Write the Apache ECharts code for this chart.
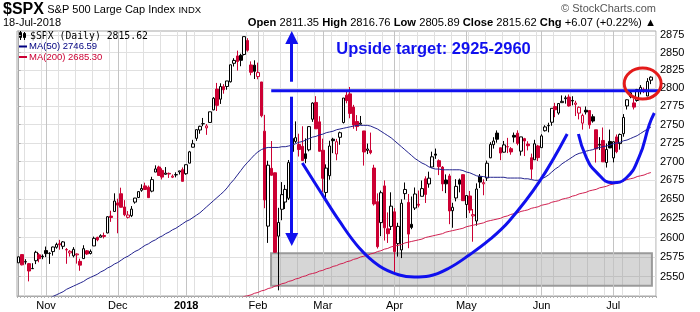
<!DOCTYPE html>
<html><head><meta charset="utf-8">
<script src="https://cdn.jsdelivr.net/npm/echarts@6/dist/echarts.min.js"></script>
<style>html,body{margin:0;padding:0;background:#fff}#c{width:700px;height:312px}</style>
</head><body><div id="c"></div>
<script>
// ---------- DATA ----------
const dates = [
'2017-10-20','2017-10-23','2017-10-24','2017-10-25','2017-10-26','2017-10-27','2017-10-30','2017-10-31',
'2017-11-01','2017-11-02','2017-11-03','2017-11-06','2017-11-07','2017-11-08','2017-11-09','2017-11-10','2017-11-13','2017-11-14','2017-11-15','2017-11-16','2017-11-17','2017-11-20','2017-11-21','2017-11-22','2017-11-24','2017-11-27','2017-11-28','2017-11-29','2017-11-30',
'2017-12-01','2017-12-04','2017-12-05','2017-12-06','2017-12-07','2017-12-08','2017-12-11','2017-12-12','2017-12-13','2017-12-14','2017-12-15','2017-12-18','2017-12-19','2017-12-20','2017-12-21','2017-12-22','2017-12-26','2017-12-27','2017-12-28','2017-12-29',
'2018-01-02','2018-01-03','2018-01-04','2018-01-05','2018-01-08','2018-01-09','2018-01-10','2018-01-11','2018-01-12','2018-01-16','2018-01-17','2018-01-18','2018-01-19','2018-01-22','2018-01-23','2018-01-24','2018-01-25','2018-01-26','2018-01-29','2018-01-30','2018-01-31',
'2018-02-01','2018-02-02','2018-02-05','2018-02-06','2018-02-07','2018-02-08','2018-02-09','2018-02-12','2018-02-13','2018-02-14','2018-02-15','2018-02-16','2018-02-20','2018-02-21','2018-02-22','2018-02-23','2018-02-26','2018-02-27','2018-02-28',
'2018-03-01','2018-03-02','2018-03-05','2018-03-06','2018-03-07','2018-03-08','2018-03-09','2018-03-12','2018-03-13','2018-03-14','2018-03-15','2018-03-16','2018-03-19','2018-03-20','2018-03-21','2018-03-22','2018-03-23','2018-03-26','2018-03-27','2018-03-28','2018-03-29',
'2018-04-02','2018-04-03','2018-04-04','2018-04-05','2018-04-06','2018-04-09','2018-04-10','2018-04-11','2018-04-12','2018-04-13','2018-04-16','2018-04-17','2018-04-18','2018-04-19','2018-04-20','2018-04-23','2018-04-24','2018-04-25','2018-04-26','2018-04-27','2018-04-30',
'2018-05-01','2018-05-02','2018-05-03','2018-05-04','2018-05-07','2018-05-08','2018-05-09','2018-05-10','2018-05-11','2018-05-14','2018-05-15','2018-05-16','2018-05-17','2018-05-18','2018-05-21','2018-05-22','2018-05-23','2018-05-24','2018-05-25','2018-05-29','2018-05-30','2018-05-31',
'2018-06-01','2018-06-04','2018-06-05','2018-06-06','2018-06-07','2018-06-08','2018-06-11','2018-06-12','2018-06-13','2018-06-14','2018-06-15','2018-06-18','2018-06-19','2018-06-20','2018-06-21','2018-06-22','2018-06-25','2018-06-26','2018-06-27','2018-06-28','2018-06-29',
'2018-07-02','2018-07-03','2018-07-05','2018-07-06','2018-07-09','2018-07-10','2018-07-11','2018-07-12','2018-07-13','2018-07-16','2018-07-17','2018-07-18'];

const opens = [
2567.56,2578.08,2568.66,2566.52,2560.08,2570.26,2577.75,2575.99,
2583.21,2579.46,2581.93,2587.47,2592.11,2588.71,2584.00,2580.18,2576.53,2577.75,2569.45,2572.95,2582.94,2579.49,2589.17,2600.31,2600.42,2602.66,2605.94,2627.82,2633.93,
2645.10,2657.19,2639.78,2626.24,2628.38,2646.21,2652.19,2661.73,2667.59,2665.87,2660.63,2685.92,2692.71,2688.18,2683.02,2684.22,2679.09,2682.10,2686.10,2689.15,
2683.73,2697.85,2719.31,2731.33,2742.67,2751.15,2745.55,2752.97,2770.18,2798.96,2784.99,2802.40,2802.60,2809.16,2835.05,2845.42,2846.24,2847.48,2867.23,2832.74,2832.41,
2816.45,2808.92,2741.06,2614.78,2690.95,2685.01,2601.78,2636.75,2646.27,2651.21,2713.46,2727.14,2722.99,2720.53,2710.42,2715.80,2757.37,2780.45,2753.78,
2715.22,2658.89,2681.06,2730.18,2710.18,2732.75,2752.91,2790.54,2792.31,2774.06,2754.27,2750.57,2741.38,2715.05,2714.99,2691.36,2646.71,2619.35,2667.57,2611.30,2614.41,
2633.45,2592.17,2584.04,2657.36,2645.82,2617.18,2638.41,2643.31,2653.83,2676.90,2670.10,2692.74,2710.11,2701.16,2692.56,2675.40,2680.80,2634.92,2651.65,2675.47,2682.51,
2642.96,2654.24,2628.08,2621.45,2680.34,2670.26,2678.12,2705.02,2722.70,2738.47,2718.59,2712.62,2719.71,2717.35,2735.39,2738.34,2713.98,2730.94,2723.60,2705.11,2702.43,2720.98,
2718.70,2741.67,2748.46,2753.25,2774.84,2765.84,2780.18,2785.60,2787.94,2783.21,2777.78,2765.79,2752.01,2769.73,2769.28,2760.79,2742.94,2722.12,2728.45,2698.69,2727.13,
2704.95,2733.27,2724.19,2737.68,2775.62,2788.56,2779.82,2783.14,2796.93,2797.36,2789.34,2811.35];

const highs = [
2575.44,2578.29,2572.18,2567.40,2567.07,2582.98,2580.03,2578.29,
2588.40,2581.11,2588.42,2593.38,2597.02,2595.47,2586.50,2583.81,2587.66,2579.66,2572.84,2590.09,2583.96,2584.64,2601.19,2600.94,2604.21,2606.41,2627.69,2634.89,2657.74,
2650.62,2665.19,2648.72,2634.41,2640.99,2651.65,2660.33,2669.72,2671.88,2668.09,2679.63,2694.97,2694.44,2691.01,2692.64,2685.35,2682.74,2685.64,2687.66,2692.12,
2695.89,2714.37,2729.29,2743.45,2748.51,2759.14,2750.80,2767.56,2787.85,2807.54,2807.04,2805.83,2810.33,2833.03,2842.24,2852.97,2848.56,2872.87,2870.62,2837.75,2839.26,
2835.96,2808.92,2763.39,2701.04,2727.67,2685.27,2638.67,2672.61,2668.84,2702.10,2731.51,2754.42,2737.60,2747.75,2731.26,2747.76,2780.64,2789.15,2761.52,
2730.89,2696.25,2728.09,2732.08,2730.60,2740.45,2786.57,2796.98,2801.90,2777.11,2763.03,2761.85,2741.38,2724.22,2739.14,2695.68,2657.67,2661.36,2674.78,2632.65,2659.07,
2638.30,2619.14,2649.86,2672.08,2656.88,2653.55,2665.45,2661.43,2674.72,2680.26,2686.49,2713.34,2717.49,2702.84,2693.94,2682.86,2683.55,2645.30,2676.48,2677.35,2682.87,
2655.27,2660.87,2637.14,2670.93,2683.35,2676.34,2701.27,2726.11,2732.86,2742.10,2718.59,2727.76,2731.96,2719.50,2739.19,2742.24,2733.33,2731.97,2727.36,2710.67,2729.34,2722.50,
2736.93,2749.16,2752.61,2772.39,2779.90,2779.39,2790.21,2789.80,2791.47,2789.06,2782.81,2774.99,2765.05,2774.86,2769.28,2764.17,2742.94,2732.91,2746.09,2724.34,2743.26,
2727.26,2736.58,2737.83,2764.41,2784.65,2795.58,2785.91,2799.22,2804.53,2801.19,2814.19,2816.76];

const lows = [
2567.56,2564.33,2565.58,2544.00,2559.80,2565.94,2568.25,2572.15,
2574.92,2566.17,2576.77,2585.66,2584.35,2585.02,2566.33,2575.57,2574.48,2566.56,2557.45,2572.95,2577.62,2578.24,2589.17,2595.23,2600.42,2598.87,2605.44,2620.32,2633.93,
2605.52,2639.03,2627.73,2624.75,2626.53,2644.10,2651.47,2659.78,2662.85,2652.01,2659.14,2685.92,2680.74,2676.11,2682.40,2678.13,2677.96,2678.91,2682.69,2673.61,
2682.36,2697.77,2719.07,2727.92,2737.60,2747.86,2736.06,2752.78,2769.64,2768.64,2778.38,2792.56,2798.08,2808.12,2830.59,2824.81,2830.94,2846.18,2851.48,2818.27,2813.04,
2812.70,2759.97,2638.17,2593.07,2681.33,2580.56,2532.69,2622.45,2637.08,2648.87,2689.82,2725.11,2706.76,2701.29,2697.77,2713.74,2753.78,2744.22,2713.54,
2659.65,2647.32,2675.75,2711.26,2701.74,2722.65,2751.54,2779.26,2758.68,2744.38,2741.47,2749.97,2694.59,2710.05,2709.79,2641.59,2585.89,2601.81,2596.12,2593.06,2609.72,
2553.80,2575.49,2573.61,2649.58,2586.27,2610.79,2635.78,2639.25,2653.83,2645.05,2665.16,2692.05,2703.63,2681.90,2660.61,2657.99,2617.32,2612.67,2647.16,2659.01,2648.04,
2625.41,2631.70,2594.62,2615.32,2664.70,2655.20,2674.14,2704.54,2717.45,2725.47,2701.91,2712.17,2711.36,2709.18,2725.70,2721.88,2707.98,2707.38,2714.99,2676.81,2702.43,2700.68,
2718.70,2740.54,2739.51,2748.46,2760.16,2763.59,2780.17,2778.78,2774.65,2776.52,2761.73,2757.12,2743.19,2763.91,2744.39,2752.68,2698.67,2715.60,2699.38,2691.99,2718.03,
2698.95,2711.16,2716.02,2733.52,2770.73,2786.24,2770.77,2781.53,2791.69,2793.39,2789.24,2805.89];

const closes = [
2575.21,2564.98,2569.13,2557.15,2560.40,2581.07,2572.83,2575.26,
2579.36,2579.85,2587.84,2591.13,2590.64,2594.38,2584.62,2582.30,2584.84,2578.87,2564.62,2585.64,2578.85,2582.14,2599.03,2597.08,2602.42,2601.42,2627.04,2626.07,2647.58,
2642.22,2639.44,2629.57,2629.27,2636.98,2651.50,2659.99,2664.11,2662.85,2652.01,2675.81,2690.16,2681.47,2679.25,2684.57,2683.34,2680.50,2682.62,2687.54,2673.61,
2695.81,2713.06,2723.99,2743.15,2747.71,2751.29,2748.23,2767.56,2786.24,2776.42,2802.56,2798.03,2810.30,2832.97,2839.13,2837.54,2839.25,2872.87,2853.53,2822.43,2823.81,
2821.98,2762.13,2648.94,2695.14,2681.66,2581.00,2619.55,2656.00,2662.94,2698.63,2731.20,2732.22,2716.26,2701.33,2703.96,2747.30,2779.60,2744.28,2713.83,
2677.67,2691.25,2720.94,2728.12,2726.80,2738.97,2786.57,2783.02,2765.31,2749.48,2747.33,2752.01,2712.92,2716.94,2711.93,2643.69,2588.26,2658.55,2612.62,2605.00,2640.87,
2581.88,2614.45,2644.69,2662.84,2604.47,2613.16,2656.87,2642.19,2663.99,2656.30,2677.84,2706.39,2708.64,2693.13,2670.14,2670.29,2634.56,2639.40,2666.94,2669.91,2648.05,
2654.80,2635.67,2629.73,2663.42,2672.63,2671.92,2697.79,2723.07,2727.72,2730.13,2711.45,2722.46,2720.13,2712.97,2733.01,2724.44,2733.29,2727.76,2721.33,2689.86,2724.01,2705.27,
2734.62,2746.87,2748.80,2772.35,2770.37,2779.03,2782.00,2786.85,2775.63,2782.49,2779.66,2773.75,2762.59,2767.32,2749.76,2754.88,2717.07,2723.06,2699.63,2716.31,2718.37,
2726.71,2713.22,2736.61,2759.82,2784.17,2793.84,2774.02,2798.29,2801.31,2798.43,2809.55,2815.62];

const prevClose = 2562.10;

const ma50 = [
2506,2508,2510,2512,2514,2515,2517,2519,2521,2523,2525,2527,
2529,2531,2534,2536,2538,2540,2542,2544,2547,2549,2551,
2553,2556,2558,2561,2563,2566,2568,
2571,2574,2576,2579,2582,2584,2587,
2590,2592,2595,2597,2600,2602,2605,2607,2610,
2612,2615,2618,2621,2623,2626,2629,2632,
2636,2640,2644,2648,2652,2656,2660,
2665,2671,2676,2682,2688,2694,
2699,2704,2709,2713,2716,2718,
2719,2719,2719,2719,2720,2720,2721,
2722,2724,2726,2727,2729,2731,2733,2734,
2736,2737,2739,2740,2741,2743,2744,2745,2746,2747,2748,2749,2749,
2749,2749,2748,2746,2744,2741,2738,2735,2732,2728,
2724,2720,2716,2712,2708,2704,2701,2698,2696,2693,2691,
2690,2690,2689,2689,2689,2689,2689,2689,2688,2686,
2685,2683,2681,2680,2680,2679,2679,2679,2679,2679,2679,2678,2678,2678,2678,2678,2677,2677,2676,2675,2675,
2677,2679,2682,2686,2690,2693,2697,2700,2703,2706,2709,2711,
2712,2714,2715,2716,2718,2719,2720,2721,2722,2724,2725,2726,2728,2729,2731,2733,2735,2738,2741,2744,2746.59];

const ma200 = [
2446,2447,2448,2450,2451,2452,2453,2454,2456,2457,2458,2459,2460,2461,2463,2464,2465,2466,2467,2469,
2470,2471,2472,2473,2475,2476,2477,2478,2479,2480,2482,2483,2484,2485,2486,2488,2489,2490,2491,2492,
2494,2495,2496,2497,2498,2500,2501,2502,2503,2504,2505,2507,2508,2509,2510,2511,2513,2514,2515,2516,
2517,2519,2520,2521,2522,2523,2525,2526,
2527,2529,2530,2532,2533,2535,2536,2538,2539,
2541,2542,2544,2545,2547,2548,2550,2551,2553,2554,2555,2557,2558,2560,2561,2563,2564,2566,2567,2569,
2570,2572,2573,2575,2576,2577,2579,2580,2582,2583,2585,2586,2588,2589,
2590,2591,2593,2594,2595,2596,2597,2598,2600,2601,2602,2603,2604,2605,2607,2608,2609,2610,2611,2612,
2614,2615,2616,2617,2618,2619,2621,2622,2623,2624,
2625,2627,2628,2630,2631,2632,2634,2635,2636,2638,2639,2640,2642,2643,2644,2646,2647,2648,2650,2651,
2652,2654,2655,2657,2658,2659,2661,2662,2663,2665,2666,2667,2669,2670,2671,2673,2674,2676,2677,2678,
2680,2681,2682,2684,2685.30];

const yTicks = [2550,2575,2600,2625,2650,2675,2700,2725,2750,2775,2800,2825,2850,2875];
const yRange = [2525.6, 2880.9];
const monthNames = ['Jan','Feb','Mar','Apr','May','Jun','Jul','Aug','Sep','Oct','Nov','Dec'];

// annotations, in (bar index, price)
const supportBox = [[73.85, 2579.8], [185.3, 2538.6]];
const neckline = [[73.9, 2796.7], [188.9, 2796.7]];
const cupCurve = [[83.0,2698.1],[87.98,2662.2],[93.83,2621.5],[99.67,2586.6],[105.53,2563.6],[111.37,2552.1],[115.76,2549.6],[120.15,2550.9],[126.0,2561.0],[131.85,2577.6],[137.7,2596.9],[143.55,2621.5],[152.32,2672.8],[160.51,2737.2]];
const handleCurve = [[163.8,2737.2],[166.0,2706.6],[168.9,2686.5],[173.8,2671.9],[177.7,2677.7],[181.6,2706.6],[184.5,2749.5],[186.0,2765.9]];
const upArrow = [[79.9, 2809.2], [79.9, 2871.6]];
const downArrow = [[79.9, 2788.4], [79.9, 2597.5]];
const targetCircle = [[177.2, 2828.4], [188.0, 2785.2]];
const targetText = {at: [92.95, 2854.5], text: 'Upside target: 2925-2960'};

// ---------- BUILD ----------
const N = dates.length;
[opens, highs, lows, closes, ma50, ma200].forEach((a, k) => { if (a.length !== N) throw new Error('length mismatch ' + k + ': ' + a.length); });
const lg = Math.log;
const RED = '#cc0033', BLK = '#000000', BLUE = '#1010ee';
const cats = dates.concat(['']);
const monthIdx = [];
dates.forEach((d, i) => { if (i > 0 && d.slice(0, 7) !== dates[i - 1].slice(0, 7)) monthIdx.push(i); });
const monthSet = new Set(monthIdx);

const candleData = dates.map((d, i) => {
  const pc = i === 0 ? prevClose : closes[i - 1];
  const lc = closes[i] >= pc ? BLK : RED;
  const fill = closes[i] > opens[i] ? '#ffffff' : lc;
  return {value: [lg(opens[i]), lg(closes[i]), lg(lows[i]), lg(highs[i])],
    itemStyle: {color: fill, color0: fill, borderColor: lc, borderColor0: lc, borderWidth: 1}};
});
const toXY = arr => arr.map(p => [p[0], lg(p[1])]);

const chart = echarts.init(document.getElementById('c'), null, {renderer: 'canvas'});
const FONT = '"Liberation Sans", Arial, sans-serif';
chart.setOption({
  animation: false,
  backgroundColor: '#ffffff',
  grid: {left: 17, right: 44, top: 31, bottom: 16, show: true, borderColor: '#a8a8a8', borderWidth: 1, outerBoundsMode: 'none'},
  xAxis: [
    {type: 'category', data: cats, boundaryGap: true,
     axisLine: {show: true, lineStyle: {color: '#a8a8a8'}},
     axisTick: {show: true, interval: 0, length: 2, lineStyle: {color: '#b0b0b0'}},
     axisLabel: {interval: (i) => monthSet.has(i), margin: 4, color: '#000', fontSize: 11, fontFamily: FONT,
       formatter: (v) => { if (!v) return ''; const m = +v.slice(5, 7); return m === 1 ? '{y|' + v.slice(0, 4) + '}' : monthNames[m - 1]; },
       rich: {y: {fontWeight: 'bold', fontSize: 11, fontFamily: FONT, color: '#000'}}},
     splitLine: {show: true, interval: (i) => i % 5 === 2, lineStyle: {color: '#e0e0e0', width: 1}}},
    {type: 'value', min: -0.5, max: N + 0.5, show: false}
  ],
  yAxis: {type: 'value', position: 'right', min: lg(yRange[0]), max: lg(yRange[1]),
    axisLine: {show: true, lineStyle: {color: '#a8a8a8'}},
    axisTick: {show: true, length: 2, customValues: yTicks.map(lg), lineStyle: {color: '#b0b0b0'}},
    axisLabel: {customValues: yTicks.map(lg), margin: 4, color: '#000', fontSize: 11, fontFamily: FONT,
      formatter: (v) => String(Math.round(Math.exp(v)))},
    splitLine: {show: true, lineStyle: {color: '#e0e0e0', width: 1}}},
  series: [
    {name: 'box', type: 'line', xAxisIndex: 1, data: [], silent: true,
     markArea: {silent: true, z: 1, itemStyle: {color: 'rgba(130,130,130,0.33)', borderColor: '#9a9a9a', borderWidth: 2},
       data: [[{coord: [supportBox[0][0], lg(supportBox[0][1])]}, {coord: [supportBox[1][0], lg(supportBox[1][1])]}]]}},
    {name: 'months', type: 'line', xAxisIndex: 0, data: [], silent: true,
     markLine: {silent: true, z: 1, symbol: 'none', label: {show: false}, lineStyle: {color: '#c4c4c4', width: 1, type: 'solid'},
       data: monthIdx.map(i => ({xAxis: dates[i]}))}},
    {name: 'spx', type: 'candlestick', xAxisIndex: 0, data: candleData, barWidth: 3, z: 3},
    {name: 'ma200', type: 'line', xAxisIndex: 0, data: ma200.map(lg), showSymbol: false, symbol: 'none', z: 4,
     lineStyle: {color: '#d02050', width: 1}},
    {name: 'ma50', type: 'line', xAxisIndex: 0, data: ma50.map(lg), showSymbol: false, symbol: 'none', z: 4,
     lineStyle: {color: '#23238e', width: 1}},
    {name: 'neck', type: 'line', xAxisIndex: 1, data: toXY(neckline), symbol: 'none', clip: false, z: 6,
     lineStyle: {color: BLUE, width: 3}},
    {name: 'cup', type: 'line', xAxisIndex: 1, data: toXY(cupCurve), symbol: 'none', smooth: 0.4, clip: false, z: 6,
     lineStyle: {color: BLUE, width: 3}},
    {name: 'handle', type: 'line', xAxisIndex: 1, data: toXY(handleCurve), symbol: 'none', smooth: 0.5, clip: false, z: 6,
     lineStyle: {color: BLUE, width: 3}},
    {name: 'arrows', type: 'line', xAxisIndex: 1, data: [], silent: true,
     markLine: {silent: true, z: 6, symbol: ['none', 'triangle'], symbolSize: 13, label: {show: false},
       itemStyle: {color: BLUE},
       lineStyle: {color: BLUE, width: 3, type: 'solid'},
       data: [upArrow, downArrow].map(a => [{coord: [a[0][0], lg(a[0][1])]}, {coord: [a[1][0], lg(a[1][1])]}])}}
  ]
});

const px = p => chart.convertToPixel({xAxisIndex: 1, yAxisIndex: 0}, [p[0], lg(p[1])]);
const c0 = px(targetCircle[0]), c1 = px(targetCircle[1]);
const tp = px(targetText.at);
chart.setOption({graphic: [
  {type: 'ellipse', z: 20, shape: {cx: (c0[0] + c1[0]) / 2, cy: (c0[1] + c1[1]) / 2, rx: Math.abs(c1[0] - c0[0]) / 2, ry: Math.abs(c1[1] - c0[1]) / 2},
   style: {fill: 'none', stroke: '#e41a1a', lineWidth: 3}},
  {type: 'text', z: 20, x: tp[0], y: tp[1], style: {text: targetText.text, fill: BLUE, font: 'bold 16.5px ' + FONT, verticalAlign: 'middle'}},
  // header
  {type: 'text', x: 3, y: 10, style: {text: '{a|$SPX} {b|S&P 500 Large Cap Index} {c|INDX}', verticalAlign: 'middle',
    rich: {a: {font: 'bold 16px ' + FONT, fill: '#000'}, b: {font: '11px ' + FONT, fill: '#000'}, c: {font: '9.5px ' + FONT, fill: '#000'}}}},
  {type: 'text', x: 3, y: 22.5, style: {text: '18-Jul-2018', font: '11px ' + FONT, fill: '#000', verticalAlign: 'middle'}},
  {type: 'text', x: 656, y: 9, style: {text: '\u00a9 StockCharts.com', font: '11px ' + FONT, fill: '#555', align: 'right', verticalAlign: 'middle'}},
  {type: 'text', x: 656, y: 22.5, style: {text: '{b|Open} 2811.35 {b|High} 2816.76 {b|Low} 2805.89 {b|Close} 2815.62 {b|Chg} +6.07 (+0.22%) \u25B2',
    font: '11.2px ' + FONT, fill: '#000', align: 'right', verticalAlign: 'middle', rich: {b: {font: 'bold 11.2px ' + FONT, fill: '#000'}}}},
  // legend
  {type: 'rect', shape: {x: 19.5, y: 32.5, width: 2, height: 5}, style: {fill: '#fff', stroke: '#000', lineWidth: 1}},
  {type: 'rect', shape: {x: 23.5, y: 33.5, width: 2, height: 4}, style: {fill: '#000', stroke: '#000', lineWidth: 1}},
  {type: 'line', shape: {x1: 20.5, y1: 31, x2: 20.5, y2: 40}, style: {stroke: '#000', lineWidth: 1}},
  {type: 'line', shape: {x1: 24.5, y1: 32, x2: 24.5, y2: 40}, style: {stroke: '#000', lineWidth: 1}},
  {type: 'text', x: 30, y: 36, style: {text: '$SPX (Daily) 2815.62', font: '9.8px "DejaVu Sans Mono", monospace', fill: '#000', verticalAlign: 'middle'}},
  {type: 'rect', shape: {x: 19, y: 45.5, width: 8, height: 2}, style: {fill: '#000080'}},
  {type: 'text', x: 29, y: 46.5, style: {text: 'MA(50) 2746.59', font: '9.5px ' + FONT, fill: '#000080', verticalAlign: 'middle'}},
  {type: 'rect', shape: {x: 19, y: 56, width: 8, height: 2}, style: {fill: '#cc0033'}},
  {type: 'text', x: 29, y: 57, style: {text: 'MA(200) 2685.30', font: '9.5px ' + FONT, fill: '#cc0033', verticalAlign: 'middle'}}
]});
</script></body></html>
